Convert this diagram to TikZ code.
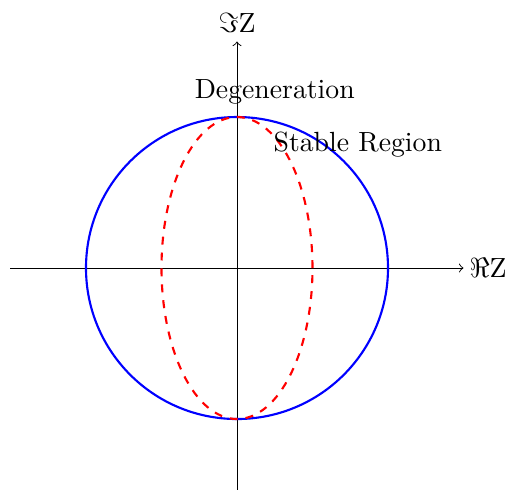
\documentclass[tikz,border=0pt]{standalone}
\begin{document}
\begin{tikzpicture}[
  axis/.style={->, line width=0.35pt},
  circ/.style={blue, line width=0.8pt},
  ell/.style={red, dashed, line width=0.8pt},
  lbl/.style={inner sep=2pt, scale=1.045}
]
\useasboundingbox (-3.139,-2.927) rectangle (3.616,3.550);
\coordinate (xl) at (-3,0);
\coordinate (xr) at (3,0);
\coordinate (yb) at (0,-3);
\coordinate (yt) at (0,3);
\draw[axis] (xl) -- (xr) node[right, lbl] (re) {$\Re\mathrm{Z}$};
\draw[axis] (yb) -- (yt) node[above, lbl, yshift=1pt] (im) {$\Im\mathrm{Z}$};
\draw[circ] (0,0) circle (2);
\draw[ell] (0,0) ellipse (1 and 2);
\node[lbl] (deg) at (0.50,2.33) {Degeneration};
\node[lbl] (stab) at (1.60,1.63) {Stable Region};
\end{tikzpicture}
\end{document}
